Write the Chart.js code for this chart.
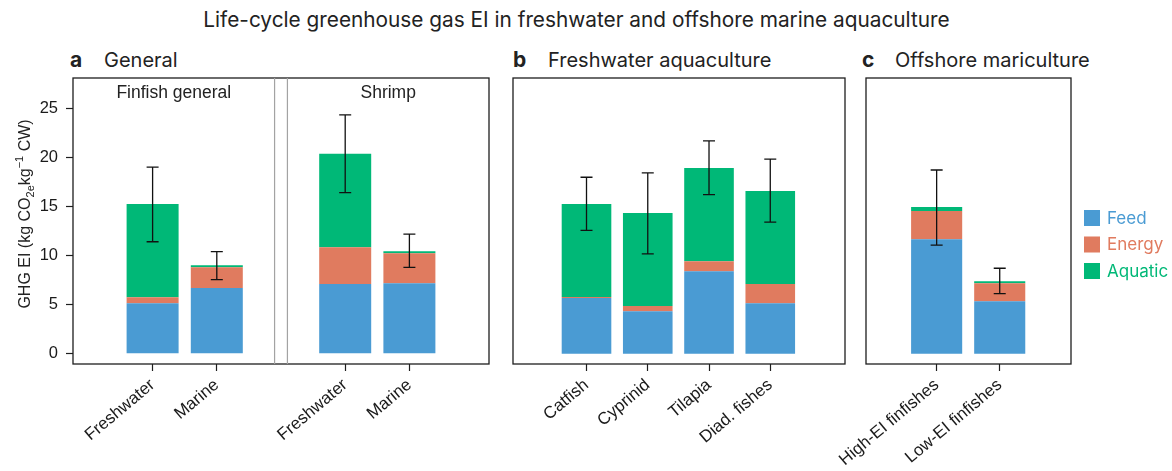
<!DOCTYPE html>
<html>
<head>
<meta charset="utf-8">
<script src="https://cdn.jsdelivr.net/npm/chart.js@4.4.1/dist/chart.umd.min.js"></script>
<style>
  html, body { margin: 0; padding: 0; background: #fff; }
  #fig { position: relative; width: 1172px; height: 471px; overflow: hidden; background: #fff; }
  #fig canvas { position: absolute; left: 0; top: 0; }
  .txt { position: absolute; font-family: Inter, "Noto Sans", sans-serif; color: #222; white-space: nowrap; }
  #title { left: 0; top: 6px; width: 1153px; text-align: center; font-size: 20.8px; line-height: 28px; }
  .letter { font-weight: 700; font-size: 21px; line-height: 28px; top: 46px; }
  .head { font-size: 20px; line-height: 28px; top: 46px; }
</style>
</head>
<body>
<div id="fig">
  <div class="txt" id="title">Life-cycle greenhouse gas EI in freshwater and offshore marine aquaculture</div>
  <div class="txt letter" style="left:70px">a</div>
  <div class="txt head" style="left:104px">General</div>
  <div class="txt letter" style="left:513px">b</div>
  <div class="txt head" style="left:548px">Freshwater aquaculture</div>
  <div class="txt letter" style="left:862px">c</div>
  <div class="txt head" style="left:895px">Offshore mariculture</div>
  <canvas id="panelA" width="1172" height="471"></canvas>
  <canvas id="panelB" width="1172" height="471"></canvas>
  <canvas id="panelC" width="1172" height="471"></canvas>
</div>
<script>
// Emission sources stacked in every bar (bottom to top)
const seriesNames = ['Feed', 'Energy', 'Aquatic'];
const seriesColors = ['#4a9bd3', '#e07b5f', '#00b877'];
const yTicks = [0, 5, 10, 15, 20, 25];

// a — General
const generalCategories = ['Freshwater', 'Marine', 'Freshwater', 'Marine'];
const generalGroups = ['Finfish general', 'Finfish general', 'Shrimp', 'Shrimp'];
const generalFeed = [5.13, 6.70, 7.10, 7.17];
const generalEnergy = [0.61, 2.10, 3.75, 3.06];
const generalAquatic = [9.49, 0.20, 9.49, 0.21];
const generalLow = [11.4, 7.55, 16.4, 8.8];
const generalHigh = [19.0, 10.4, 24.3, 12.17];

// b — Freshwater aquaculture
const freshCategories = ['Catfish', 'Cyprinid', 'Tilapia', 'Diad. fishes'];
const freshFeed = [5.67, 4.32, 8.40, 5.13];
const freshEnergy = [0.11, 0.54, 1.02, 1.97];
const freshAquatic = [9.45, 9.46, 9.49, 9.46];
const freshLow = [12.55, 10.17, 16.19, 13.4];
const freshHigh = [17.96, 18.4, 21.66, 19.8];

// c — Offshore mariculture
const offshoreCategories = ['High-EI finfishes', 'Low-EI finfishes'];
const offshoreFeed = [11.66, 5.34];
const offshoreEnergy = [2.86, 1.83];
const offshoreAquatic = [0.41, 0.21];
const offshoreLow = [11.05, 6.12];
const offshoreHigh = [18.7, 8.7];

const AXIS_FONT = '"Liberation Sans", Arial, sans-serif';
const INK = '#1e1e1e';

// slot index of each bar; a new group leaves one empty slot
function slotPositions(groups, n) {
  let gap = 0;
  const out = [];
  for (let i = 0; i < n; i++) {
    if (groups && i > 0 && groups[i] !== groups[i - 1]) gap++;
    out.push(i + gap);
  }
  return out;
}

const framePlugin = {
  id: 'frame',
  afterDraw(chart) {
    const { ctx, chartArea: a } = chart;
    ctx.save();
    ctx.strokeStyle = INK;
    ctx.lineWidth = 1.3;
    ctx.strokeRect(a.left, a.top, a.right - a.left, a.bottom - a.top);
    ctx.restore();
  }
};

function errorBarPlugin(positions, low, high) {
  return {
    id: 'errorBars',
    afterDatasetsDraw(chart) {
      const { ctx, scales: { x, y } } = chart;
      ctx.save();
      ctx.strokeStyle = '#111';
      ctx.lineWidth = 1.3;
      positions.forEach((p, i) => {
        const px = x.getPixelForValue(p);
        const yl = y.getPixelForValue(low[i]);
        const yh = y.getPixelForValue(high[i]);
        ctx.beginPath();
        ctx.moveTo(px, yl); ctx.lineTo(px, yh);
        ctx.moveTo(px - 6, yl); ctx.lineTo(px + 6, yl);
        ctx.moveTo(px - 6, yh); ctx.lineTo(px + 6, yh);
        ctx.stroke();
      });
      ctx.restore();
    }
  };
}

// facet divider and facet names inside panel a
function facetPlugin(positions, groups) {
  return {
    id: 'facets',
    afterDraw(chart) {
      const { ctx, chartArea: a, scales: { x } } = chart;
      const names = [...new Set(groups)];
      // empty slot between the two groups
      const split = positions[groups.indexOf(names[1])] - 1;
      const mid = x.getPixelForValue(split);
      const half = (x.getPixelForValue(1) - x.getPixelForValue(0)) * 0.1;
      ctx.save();
      ctx.strokeStyle = '#a3a3a3';
      ctx.lineWidth = 1.2;
      [mid - half, mid + half].forEach(sx => {
        ctx.beginPath(); ctx.moveTo(sx, a.top); ctx.lineTo(sx, a.bottom); ctx.stroke();
      });
      ctx.fillStyle = '#222';
      ctx.font = '17.5px ' + AXIS_FONT;
      ctx.textAlign = 'center';
      ctx.textBaseline = 'middle';
      ctx.fillText(names[0], (a.left + mid - half) / 2, a.top + 15);
      ctx.fillText(names[1], (mid + half + a.right) / 2, a.top + 15);
      ctx.restore();
    }
  };
}

// y-axis title with CO2e subscript and kg−1 superscript
const yTitlePlugin = {
  id: 'yTitle',
  afterDraw(chart) {
    const { ctx } = chart;
    const parts = [
      { t: 'GHG EI (kg CO', s: 16, dy: 0 },
      { t: '2e', s: 11, dy: 4 },
      { t: 'kg', s: 16, dy: 0 },
      { t: '\u22121', s: 11, dy: -7 },
      { t: ' CW)', s: 16, dy: 0 }
    ];
    ctx.save();
    ctx.translate(24, 214);
    ctx.rotate(-Math.PI / 2);
    ctx.fillStyle = '#222';
    ctx.textBaseline = 'alphabetic';
    ctx.textAlign = 'left';
    let total = 0;
    parts.forEach(p => { ctx.font = p.s + 'px ' + AXIS_FONT; p.w = ctx.measureText(p.t).width; total += p.w; });
    let cx = -total / 2;
    parts.forEach(p => {
      ctx.font = p.s + 'px ' + AXIS_FONT;
      ctx.fillText(p.t, cx, 6 + p.dy);
      cx += p.w;
    });
    ctx.restore();
  }
};

const legendPlugin = {
  id: 'sourceLegend',
  afterDraw(chart) {
    const { ctx, chartArea: a } = chart;
    ctx.save();
    ctx.font = '17px Inter, "Noto Sans", sans-serif';
    ctx.textBaseline = 'middle';
    ctx.textAlign = 'left';
    chart.data.datasets.forEach((ds, i) => {
      const cy = 218 + i * 26.5;
      ctx.fillStyle = ds.backgroundColor;
      ctx.fillRect(a.right + 13, cy - 8, 16, 16);
      ctx.fillText(ds.label, a.right + 36, cy + 0.5);
    });
    ctx.restore();
  }
};

function makePanel(id, p) {
  const positions = slotPositions(p.groups, p.categories.length);
  const stacks = [p.feed, p.energy, p.aquatic];
  const plugins = [framePlugin, errorBarPlugin(positions, p.low, p.high)];
  if (p.groups) plugins.push(facetPlugin(positions, p.groups));
  if (p.showY) plugins.push(yTitlePlugin);
  if (p.legend) plugins.push(legendPlugin);

  const yScale = {
    type: 'linear',
    stacked: true,
    display: p.showY,
    min: -1.04,
    max: 28.06,
    afterBuildTicks: s => { s.ticks = yTicks.map(v => ({ value: v })); },
    grid: { display: true, drawOnChartArea: false, drawTicks: true, tickLength: 7, tickWidth: 1.2, tickColor: INK },
    border: { display: false },
    ticks: { padding: 8, color: '#1a1a1a', font: { family: AXIS_FONT, size: 16.5 } }
  };
  if (p.showY) yScale.afterFit = s => { s.width = 73; };

  return new Chart(document.getElementById(id), {
    type: 'bar',
    data: {
      datasets: seriesNames.map((name, k) => ({
        label: name,
        backgroundColor: seriesColors[k],
        borderWidth: 0,
        data: positions.map((pos, i) => ({ x: pos, y: stacks[k][i] }))
      }))
    },
    plugins,
    options: {
      responsive: false,
      animation: false,
      events: [],
      layout: { padding: { left: p.padLeft, right: p.padRight, top: 78, bottom: 0 } },
      datasets: { bar: { categoryPercentage: 0.9, barPercentage: 0.9 } },
      plugins: { legend: { display: false }, tooltip: { enabled: false }, title: { display: false } },
      scales: {
        x: {
          type: 'linear',
          stacked: true,
          offset: false,
          min: p.xMin,
          max: p.xMax,
          afterBuildTicks: s => { s.ticks = positions.map(v => ({ value: v })); },
          afterFit: s => { s.height = 107; },
          grid: { display: true, offset: false, drawOnChartArea: false, drawTicks: true, tickLength: 7, tickWidth: 1.2, tickColor: INK },
          border: { display: false },
          ticks: {
            autoSkip: false,
            minRotation: 40,
            maxRotation: 40,
            padding: 4,
            color: '#1a1a1a',
            font: { family: AXIS_FONT, size: 17 },
            callback: v => p.categories[positions.indexOf(v)]
          }
        },
        y: yScale
      }
    }
  });
}

makePanel('panelA', {
  categories: generalCategories, groups: generalGroups,
  feed: generalFeed, energy: generalEnergy, aquatic: generalAquatic,
  low: generalLow, high: generalHigh,
  xMin: -1.24, xMax: 5.24, showY: true, padLeft: 0, padRight: 683
});
makePanel('panelB', {
  categories: freshCategories,
  feed: freshFeed, energy: freshEnergy, aquatic: freshAquatic,
  low: freshLow, high: freshHigh,
  xMin: -1.2, xMax: 4.22, showY: false, padLeft: 513, padRight: 327
});
makePanel('panelC', {
  categories: offshoreCategories,
  feed: offshoreFeed, energy: offshoreEnergy, aquatic: offshoreAquatic,
  low: offshoreLow, high: offshoreHigh,
  xMin: -1.12, xMax: 2.13, showY: false, padLeft: 866, padRight: 101, legend: true
});
</script>
</body>
</html>
